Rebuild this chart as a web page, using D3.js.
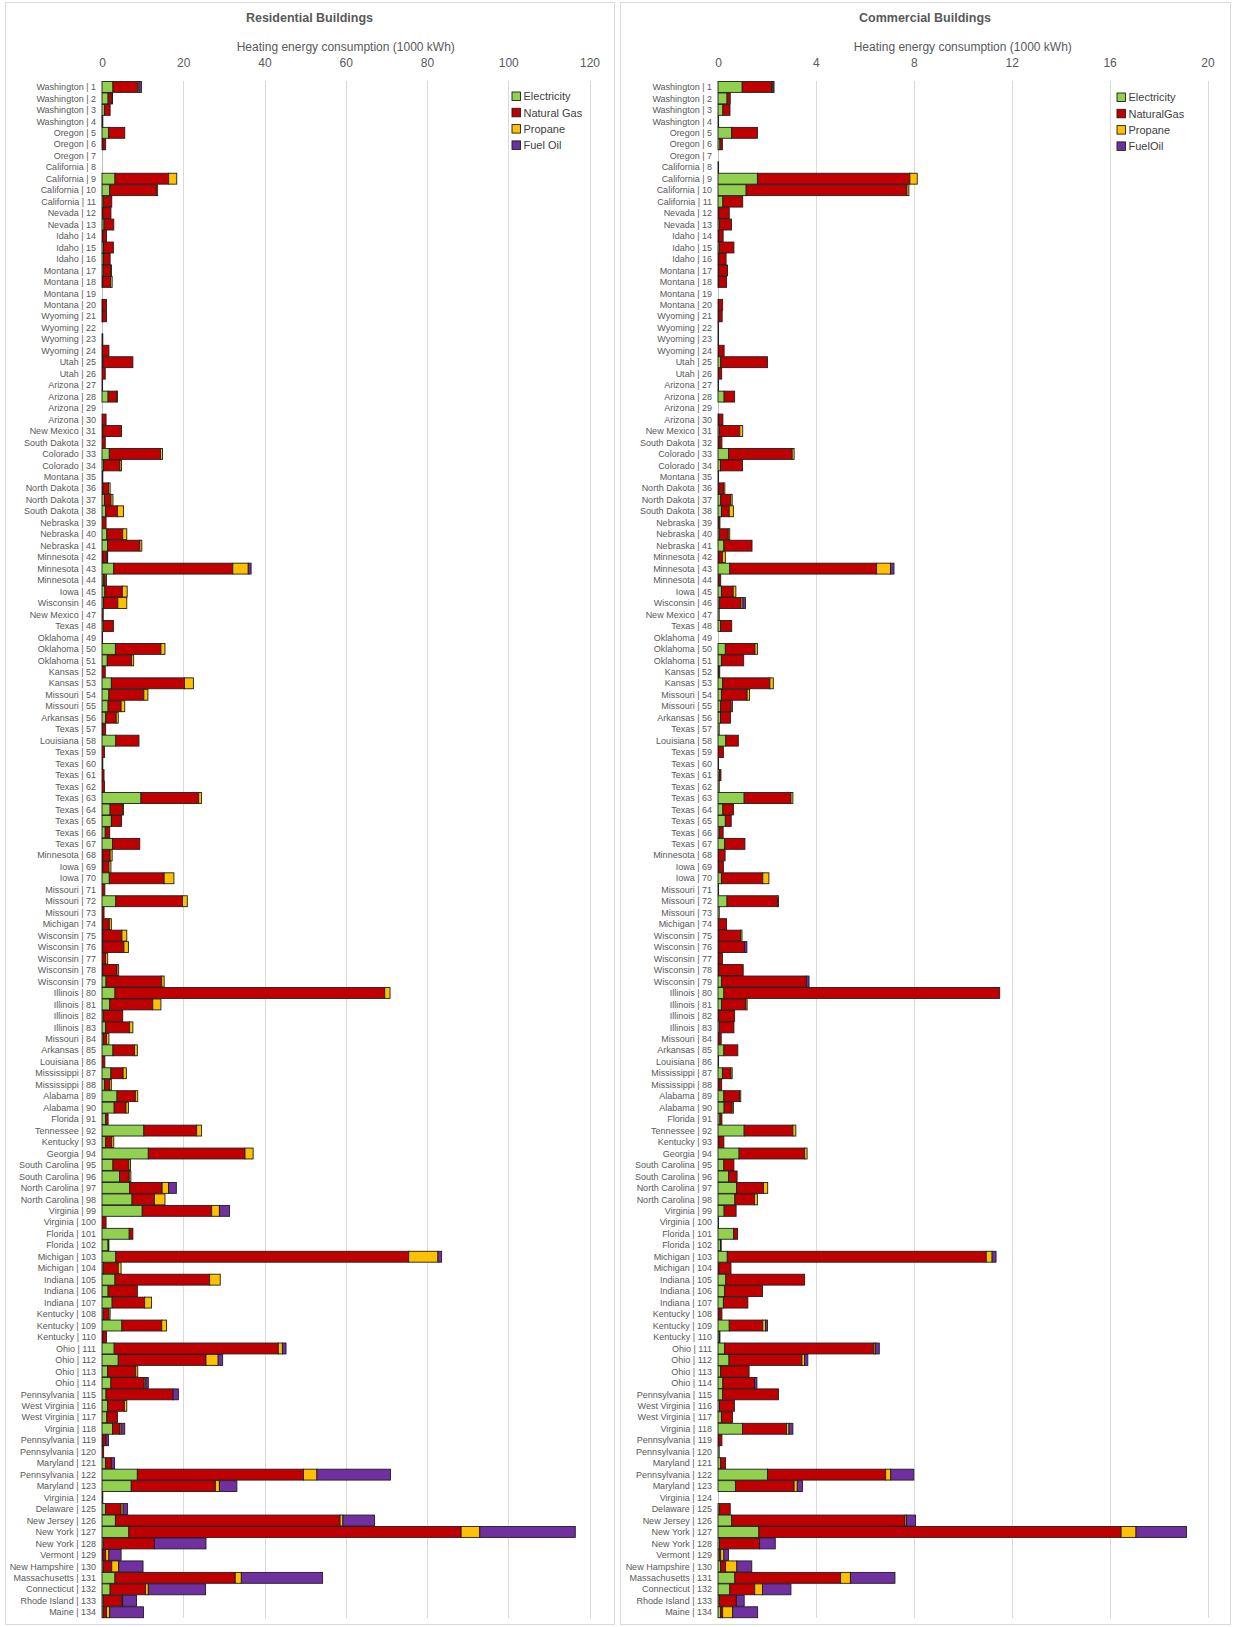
<!DOCTYPE html>
<html>
<head>
<meta charset="utf-8">
<script src="https://cdn.jsdelivr.net/npm/d3@7"></script>
<style>
  body { margin: 0; background: #fff; }
  svg { display: block; font-family: "Liberation Sans", Arial, sans-serif; }
</style>
</head>
<body>
<div id="svgcontainer"></div>
<script>
// building locations, one per row
var states = ["Washington","Washington","Washington","Washington","Oregon","Oregon","Oregon","California","California","California",
  "California","Nevada","Nevada","Idaho","Idaho","Idaho","Montana","Montana","Montana","Montana",
  "Wyoming","Wyoming","Wyoming","Wyoming","Utah","Utah","Arizona","Arizona","Arizona","Arizona",
  "New Mexico","South Dakota","Colorado","Colorado","Montana","North Dakota","North Dakota","South Dakota","Nebraska","Nebraska",
  "Nebraska","Minnesota","Minnesota","Minnesota","Iowa","Wisconsin","New Mexico","Texas","Oklahoma","Oklahoma",
  "Oklahoma","Kansas","Kansas","Missouri","Missouri","Arkansas","Texas","Louisiana","Texas","Texas",
  "Texas","Texas","Texas","Texas","Texas","Texas","Texas","Minnesota","Iowa","Iowa",
  "Missouri","Missouri","Missouri","Michigan","Wisconsin","Wisconsin","Wisconsin","Wisconsin","Wisconsin","Illinois",
  "Illinois","Illinois","Illinois","Missouri","Arkansas","Louisiana","Mississippi","Mississippi","Alabama","Alabama",
  "Florida","Tennessee","Kentucky","Georgia","South Carolina","South Carolina","North Carolina","North Carolina","Virginia","Virginia",
  "Florida","Florida","Michigan","Michigan","Indiana","Indiana","Indiana","Kentucky","Kentucky","Kentucky",
  "Ohio","Ohio","Ohio","Ohio","Pennsylvania","West Virginia","West Virginia","Virginia","Pennsylvania","Pennsylvania",
  "Maryland","Pennsylvania","Maryland","Virginia","Delaware","New Jersey","New York","New York","Vermont","New Hampshire",
  "Massachusetts","Connecticut","Rhode Island","Maine"]

// residential (1000 kWh)
var resElectricity = [2.7,1.5,0.6,0.05,1.6,0.2,0,0,3.2,1.9, 0.3,0.2,0.5,0.2,0.4,0.4,0.3,0.2,0,0.1,
  0.1,0,0,0.1,0.2,0,0,1.5,0,0, 0.2,0,1.8,0.4,0,0.2,0.6,0.9,0,1.2,
  1.4,0.2,2.9,0.3,0.7,0.4,0,0.3,0,3.3, 1.3,0,2.3,1.7,1.5,0.9,0.1,3.4,0,0,
  0,0,9.6,2.0,2.3,0.8,2.6,0.2,0.2,1.8, 0,3.4,0,0.2,0.2,0.2,0,0.2,1.0,3.2,
  1.9,0.3,0.9,0.3,2.7,0,2.2,0.6,3.7,3.0, 0.9,10.3,0.9,11.4,2.7,4.3,6.8,7.4,9.9,0,
  6.7,1.5,3.4,0.3,3.2,1.5,2.5,0.3,4.9,0.2, 3.0,4.0,1.4,2.2,1.0,1.4,1.2,2.6,0.2,0,
  0.9,8.7,7.2,0,0.9,3.3,6.6,0.3,0.2,0.3, 3.2,2.0,0.3,0.3]
var resNaturalGas = [6.1,0.9,1.4,0.1,4.0,0.7,0,0,13.2,11.5, 2.1,2.0,2.4,0.9,2.4,1.6,1.9,1.9,0,1.0,
  1.0,0,0.2,1.6,7.4,0.8,0.1,2.1,0,1.0, 4.6,0.8,12.6,4.0,0.2,1.4,1.6,2.9,1.0,3.9,
  7.9,1.0,29.3,0.5,4.3,3.5,0.3,2.5,0.1,11.2, 6.0,0.8,18.0,8.6,3.2,2.6,0.8,5.7,0.6,0.2,
  0.5,0.6,14.2,3.1,2.5,1.1,6.7,1.8,1.5,13.5, 0.7,16.4,0.5,1.6,4.7,5.2,0.9,3.5,13.7,66.4,
  10.6,4.8,5.9,0.8,5.3,0.7,3.0,1.3,4.5,2.9, 0.6,13.0,1.5,23.8,3.9,2.4,8.0,5.5,17.1,1.0,
  0.9,0.2,72.1,3.7,23.3,7.2,8.0,1.4,9.8,0.9, 40.4,21.6,6.9,8.2,16.5,4.1,2.6,1.7,0.8,0.4,
  1.4,40.9,20.7,0.2,3.8,55.3,81.8,12.6,0.7,2.1, 29.6,8.7,4.6,0.8]
var resPropane = [0.3,0.2,0,0,0,0,0,0,2.0,0.3, 0,0,0,0,0,0,0.1,0.4,0,0,
  0,0,0,0,0,0,0,0.2,0,0, 0,0,0.5,0.4,0,0.4,0.5,1.5,0,1.0,
  0.5,0.2,3.8,0.3,1.2,2.2,0,0,0,1.0, 0.5,0,2.2,1.0,0.9,0.5,0,0,0,0,
  0,0,0.7,0.2,0,0,0,0.5,0.5,2.4, 0,1.2,0,0.5,1.2,1.1,0.5,0.4,0.6,1.3,
  2.0,0,0.8,0.6,0.7,0,0.8,0.4,0.6,0.6, 0,1.2,0.5,2.0,0.4,0.4,1.6,2.6,1.9,0,
  0,0,7.2,0.7,2.6,0,1.7,0.3,1.2,0, 1.0,3.0,0.5,0.4,0,0.6,0,0.4,0,0,
  0,3.3,1.0,0,0.5,0.7,4.6,0,0.8,1.7, 1.5,0.7,0.2,0.8]
var resFuelOil = [0.6,0,0,0,0,0,0,0,0,0, 0,0,0,0,0,0,0,0,0,0,
  0,0,0,0,0,0,0,0,0,0, 0,0,0,0,0,0,0,0,0,0,
  0,0,0.7,0,0,0,0,0,0,0, 0,0,0,0,0,0,0,0,0,0,
  0,0,0,0,0,0,0,0,0,0, 0,0,0,0,0,0,0,0,0,0,
  0,0,0,0,0,0,0,0,0,0, 0,0,0,0,0,0,1.9,0,2.5,0,
  0,0,0.9,0,0,0,0,0,0,0, 0.9,1.1,0,0.6,1.3,0,0,0.9,0.6,0,
  0.8,18.1,4.3,0,1.1,7.8,23.5,12.7,3.0,6.0, 20.0,14.1,3.4,8.3]

// commercial (1000 kWh)
var comElectricity = [0.99,0.37,0.2,0.02,0.56,0.08,0,0.01,1.61,1.15, 0.2,0.03,0.05,0.03,0.05,0.03,0.03,0.03,0,0.02,
  0.03,0.02,0.02,0.02,0.11,0.02,0.02,0.25,0,0.03, 0.05,0.03,0.43,0.1,0.02,0.03,0.11,0.14,0.02,0.05,
  0.24,0.03,0.48,0.03,0.14,0.05,0.05,0.11,0,0.3, 0.14,0.02,0.19,0.14,0.11,0.1,0.05,0.32,0.02,0.02,
  0.05,0.05,1.07,0.2,0.3,0.05,0.27,0.02,0.03,0.14, 0.02,0.37,0.05,0.02,0.03,0.03,0.03,0.03,0.14,0.24,
  0.14,0.03,0.05,0.03,0.24,0.02,0.18,0.03,0.24,0.25, 0.08,1.07,0.03,0.86,0.24,0.43,0.76,0.69,0.25,0.02,
  0.64,0.1,0.38,0.03,0.32,0.27,0.22,0.03,0.46,0.05, 0.27,0.45,0.11,0.2,0.19,0.06,0.14,1.0,0.03,0.05,
  0.11,2.02,0.72,0,0.05,0.56,1.67,0.06,0.05,0.1, 0.69,0.48,0.05,0.11]
var comNaturalGas = [1.2,0.13,0.29,0,1.05,0.1,0,0,6.23,6.57, 0.81,0.43,0.5,0.18,0.6,0.3,0.36,0.32,0,0.17,
  0.14,0,0,0.23,1.91,0.13,0,0.43,0,0.17, 0.84,0.13,2.6,0.9,0,0.2,0.41,0.32,0.06,0.37,
  1.15,0.15,6.0,0.08,0.48,0.89,0,0.45,0,1.21, 0.91,0.05,1.93,1.05,0.43,0.41,0,0.51,0.2,0,
  0.07,0,1.91,0.43,0.24,0.16,0.83,0.27,0.19,1.69, 0,2.06,0,0.33,0.9,1.05,0.15,1.0,3.47,11.27,
  1.0,0.65,0.6,0.1,0.57,0,0.35,0.12,0.64,0.33, 0.08,1.99,0.21,2.68,0.41,0.35,1.1,0.8,0.49,0,
  0.16,0.03,10.58,0.5,3.22,1.55,1.0,0.13,1.37,0.03, 6.1,2.98,1.16,1.29,2.28,0.61,0.45,1.8,0.13,0,
  0.2,4.83,2.39,0,0.45,7.08,14.8,1.64,0.06,0.21, 4.32,1.02,0.7,0.08]
var comPropane = [0.05,0,0,0,0,0,0,0,0.3,0.08, 0,0,0,0,0,0,0,0,0,0,
  0,0,0,0,0,0,0,0,0,0, 0.12,0,0.08,0,0,0.05,0.06,0.17,0,0.06,
  0,0.12,0.57,0,0.11,0.08,0,0,0,0.1, 0,0,0.14,0.1,0.05,0,0,0,0,0,
  0,0,0.08,0,0,0,0,0,0,0.25, 0,0.04,0,0,0.05,0,0,0,0,0,
  0.05,0,0,0,0,0,0.05,0,0.05,0.05, 0,0.12,0,0.1,0,0,0.17,0.12,0,0,
  0,0,0.24,0,0,0,0,0,0.11,0, 0.06,0.11,0,0,0,0,0,0.1,0,0,
  0,0.21,0.13,0,0,0.06,0.61,0,0.13,0.46, 0.4,0.32,0,0.41]
var comFuelOil = [0.05,0,0,0,0,0,0,0,0,0, 0,0,0,0,0,0,0,0,0,0,
  0,0,0,0,0,0,0,0,0,0, 0,0,0,0,0,0,0,0,0,0,
  0,0,0.14,0,0,0.1,0,0,0,0, 0,0,0,0,0,0,0,0,0,0,
  0,0,0,0,0,0,0,0,0,0, 0,0,0,0,0,0.1,0,0,0.11,0,
  0,0,0,0,0,0,0,0,0,0, 0,0,0,0,0,0,0,0,0,0,
  0,0,0.16,0,0,0,0,0,0.08,0, 0.16,0.13,0,0.1,0,0,0,0.16,0,0,
  0,0.94,0.21,0,0,0.37,2.06,0.64,0.19,0.61, 1.82,1.16,0.32,1.02]

var resTicks = [0, 20, 40, 60, 80, 100, 120]
var comTicks = [0, 4, 8, 12, 16, 20]
var colors = ["#92D050", "#C00000", "#FFC000", "#7030A0"]
var keys = ["e", "ng", "p", "fo"]

var labels = states.map((s, i) => s + " | " + (i + 1))

var svg = d3.select("#svgcontainer")
    .append("svg")
        .attr("width", 1233)
        .attr("height", 1627)

function drawPanel(p) {
    var g = svg.append("g")

    // panel frame
    g.append("rect")
        .attr("x", p.left + 0.5).attr("y", 2.5)
        .attr("width", p.right - p.left).attr("height", 1622)
        .attr("fill", "#fff")
        .attr("stroke", "#d9d9d9")

    var rows = labels.map((l, i) => ({ label: l, e: p.series[0][i], ng: p.series[1][i], p: p.series[2][i], fo: p.series[3][i] }))

    var x = d3.scaleLinear()
        .domain([0, p.ticks[p.ticks.length - 1]])
        .range([p.x0, p.x1])
    var y = d3.scaleBand()
        .domain(labels)
        .range([81.5, 1617.7])
        .paddingInner(0.05)

    // title + axis title
    var cx = (p.left + p.right) / 2
    g.append("text")
        .attr("x", cx).attr("y", 21.5)
        .attr("text-anchor", "middle")
        .style("font-size", "12.5px").style("font-weight", "bold")
        .attr("fill", "#595959")
        .text(p.title)
    g.append("text")
        .attr("x", (p.x0 + p.x1) / 2).attr("y", 51)
        .attr("text-anchor", "middle")
        .style("font-size", "12px")
        .attr("fill", "#595959")
        .text("Heating energy consumption (1000 kWh)")

    // gridlines
    g.selectAll(".grid")
        .data(p.ticks)
        .enter().append("line")
        .attr("x1", d => Math.round(x(d)) + 0.5).attr("x2", d => Math.round(x(d)) + 0.5)
        .attr("y1", 81).attr("y2", 1618)
        .attr("stroke", d => d === 0 ? "#bfbfbf" : "#d9d9d9")

    // top axis labels
    var ax = g.append("g")
        .attr("transform", "translate(0,71)")
        .call(d3.axisTop(x).tickValues(p.ticks).tickSize(0).tickPadding(4))
    ax.select(".domain").remove()
    ax.selectAll("text")
        .style("font-size", "12px")
        .style("font-family", "Liberation Sans, Arial, sans-serif")
        .attr("fill", "#595959")

    // category labels
    g.selectAll(".cat")
        .data(labels)
        .enter().append("text")
        .attr("x", p.x0 - 6)
        .attr("y", d => y(d) + y.bandwidth() / 2)
        .attr("dy", "0.35em")
        .attr("text-anchor", "end")
        .style("font-size", "9px")
        .attr("fill", "#595959")
        .text(d => d)

    // stacked bars
    var stack = d3.stack().keys(keys)(rows)
    g.selectAll(".layer")
        .data(stack)
        .enter().append("g")
        .attr("fill", (d, i) => colors[i])
        .selectAll("rect")
        .data(d => d.filter(s => s[1] - s[0] > 0))
        .enter().append("rect")
            .attr("x", d => x(d[0]))
            .attr("y", d => y(d.data.label))
            .attr("width", d => Math.max(0.6, x(d[1]) - x(d[0])))
            .attr("height", y.bandwidth())
            .attr("stroke", "#1e1e1e")
            .attr("stroke-width", 0.9)

    // legend
    var lg = g.append("g")
        .attr("transform", "translate(" + p.legendX + "," + p.legendY + ")")
    var items = lg.selectAll("g")
        .data(p.legend)
        .enter().append("g")
        .attr("transform", (d, i) => "translate(0," + (i * 16.3) + ")")
    items.append("rect")
        .attr("x", 0).attr("y", -4.5)
        .attr("width", 8.5).attr("height", 8.5)
        .attr("fill", (d, i) => colors[i])
        .attr("stroke", "#1e1e1e").attr("stroke-width", 0.9)
    items.append("text")
        .attr("x", 11.5).attr("y", 0)
        .attr("dy", "0.35em")
        .style("font-size", "11px")
        .attr("fill", "#404040")
        .text(d => d)
}

drawPanel({
    title: "Residential Buildings", left: 5, right: 614,
    x0: 102, x1: 589.5, ticks: resTicks,
    series: [resElectricity, resNaturalGas, resPropane, resFuelOil],
    legend: ["Electricity", "Natural Gas", "Propane", "Fuel Oil"],
    legendX: 512, legendY: 96.5
})
drawPanel({
    title: "Commercial Buildings", left: 620, right: 1230,
    x0: 718, x1: 1207.5, ticks: comTicks,
    series: [comElectricity, comNaturalGas, comPropane, comFuelOil],
    legend: ["Electricity", "NaturalGas", "Propane", "FuelOil"],
    legendX: 1117, legendY: 97.5
})
</script>
</body>
</html>
